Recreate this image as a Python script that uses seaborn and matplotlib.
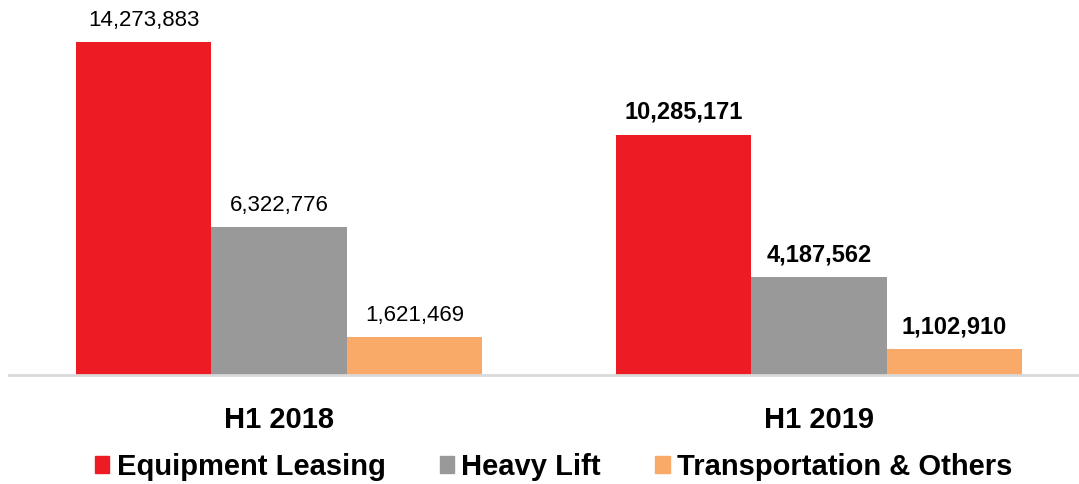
import pandas as pd
import matplotlib.pyplot as plt
import seaborn as sns

periods = ["H1 2018", "H1 2019"]
segments = ["Equipment Leasing", "Heavy Lift", "Transportation & Others"]
equipment_leasing = [14273883, 10285171]
heavy_lift = [6322776, 4187562]
transport_others = [1621469, 1102910]
colors = ["#ED1C24", "#999999", "#F9A968"]

df = pd.DataFrame({
    "period": periods * 3,
    "segment": [s for s in segments for _ in periods],
    "value": equipment_leasing + heavy_lift + transport_others,
})

sns.set_style("white")
plt.rcParams["font.family"] = ["Liberation Sans", "DejaVu Sans"]
plt.rcParams["text.color"] = "black"
plt.rcParams["xtick.color"] = "black"

fig = plt.figure(figsize=(10.79, 4.84), dpi=100)
ax = fig.add_axes([9 / 1079, 1 - 375 / 484, 1080 / 1079, 375 / 484])

sns.barplot(data=df, x="period", y="value", hue="segment", hue_order=segments,
            palette=colors, width=0.753, saturation=1, linewidth=0,
            ax=ax, legend=False)

ax.set_xlim(-0.5, 1.5)
ax.set_ylim(0, 16.07e6)

for cont in ax.containers:
    texts = ax.bar_label(cont, labels=[f"{v:,.0f}" for v in cont.datavalues],
                         padding=8, fontsize=16, color="black")
    texts[1].set_fontweight("bold")
    texts[1].set_fontsize(17)

for side in ["top", "right", "left"]:
    ax.spines[side].set_visible(False)
ax.spines["bottom"].set_color("#D9D9D9")
ax.spines["bottom"].set_linewidth(2)
ax.set_yticks([])
ax.set_xlabel("")
ax.set_ylabel("")
ax.tick_params(axis="x", length=0, pad=22, labelcolor="black")
for lbl in ax.get_xticklabels():
    lbl.set_fontsize(21)
    lbl.set_fontweight("bold")

handles = [plt.Rectangle((0, 0), 1, 1, color=c) for c in colors]
leg = fig.legend(handles, segments, loc="center",
                 bbox_to_anchor=(0.5 + 14 / 1079, 1 - 467 / 484),
                 ncol=3, frameon=False, handlelength=0.5, handleheight=0.5,
                 handletextpad=0.25, columnspacing=1.85,
                 prop={"size": 21, "weight": "bold"})
for t in leg.get_texts():
    t.set_color("black")

fig.savefig("out.png", dpi=100)
